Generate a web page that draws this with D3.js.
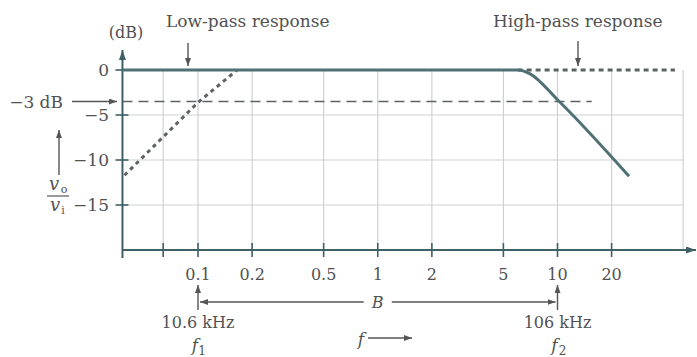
<!DOCTYPE html>
<html>
<head>
  <meta charset="UTF-8">
  <title>Bandwidth</title>
  <script src="https://d3js.org/d3.v7.min.js"></script>
  <style>
    body { margin: 0; background: #fff; }
    text { font-family: "DejaVu Serif", serif; fill: #515151; }
  </style>
</head>
<body>
    <svg></svg>

    <script>
        // values (frequency in units of f2, gain in dB)
        let gridFreqs = [0.064, 0.1, 0.2, 0.5, 1, 2, 5, 10, 20, 50];
        let tickFreqs = [0.1, 0.2, 0.5, 1, 2, 5, 10, 20];
        let tickLabels = ["0.1", "0.2", "0.5", "1", "2", "5", "10", "20"];
        let dbTicks = [0, -5, -10, -15];
        let dbGrid = [-5, -10, -15];

        let lowPassFreq = [0.039, 0.1, 0.165];
        let lowPassDb = [-11.7, -3.6, 0];

        let bandFreq = [0.038, 6.0, 7.0, 10, 25];
        let bandDb = [0, 0, -0.4, -3.3, -11.8];

        let highPassFreq = [6.0, 45];
        let highPassDb = [0, 0];

        let halfPowerFreq = [0.038, 15.5];
        let halfPowerDb = [-3.5, -3.5];

        let f1 = 0.1, f2 = 10;

        let width = 697, height = 357;
        let svg = d3.select("svg")
            .attr("width", width)
            .attr("height", height);

        let x = d3.scaleLog().domain([0.1, 10]).range([198, 557.5]);
        let y = d3.scaleLinear().domain([0, -20]).range([70, 250]);
        let x0 = x(0.038);

        let axisCol = "#3e6066", lineCol = "#4f7075", gridCol = "#cfd2d2", dashCol = "#5e6263";

        let defs = svg.append("defs");
        function marker(id, col, w, h) {
            defs.append("marker")
                .attr("id", id)
                .attr("markerUnits", "userSpaceOnUse")
                .attr("markerWidth", w).attr("markerHeight", h)
                .attr("refX", w).attr("refY", h / 2)
                .attr("orient", "auto")
                .append("path")
                .attr("d", "M0,0 L" + w + "," + (h / 2) + " L0," + h + " z")
                .attr("fill", col);
        }
        marker("arr", "#555", 8, 6);
        marker("arrAxis", axisCol, 10, 7);

        // grid
        let grid = svg.append("g").attr("id", "grid");
        grid.selectAll("line.v")
            .data(gridFreqs)
            .enter()
            .append("line")
            .attr("x1", d => x(d)).attr("x2", d => x(d))
            .attr("y1", y(0)).attr("y2", y(-20))
            .attr("stroke", gridCol).attr("stroke-width", 1.2);
        grid.selectAll("line.h")
            .data(dbGrid)
            .enter()
            .append("line")
            .attr("x1", x0).attr("x2", x(50))
            .attr("y1", d => y(d)).attr("y2", d => y(d))
            .attr("stroke", gridCol).attr("stroke-width", 1.2);

        // axes
        let axes = svg.append("g").attr("id", "axes");
        axes.append("line")
            .attr("x1", x0).attr("x2", width - 1)
            .attr("y1", y(-20)).attr("y2", y(-20))
            .attr("stroke", axisCol).attr("stroke-width", 2.2)
            .attr("marker-end", "url(#arrAxis)");
        axes.append("line")
            .attr("x1", x0).attr("x2", x0)
            .attr("y1", y(-20) + 8).attr("y2", 50)
            .attr("stroke", axisCol).attr("stroke-width", 2)
            .attr("marker-end", "url(#arrAxis)");

        axes.selectAll("line.xt")
            .data(gridFreqs.slice(0, -1))
            .enter()
            .append("line")
            .attr("x1", d => x(d)).attr("x2", d => x(d))
            .attr("y1", y(-20) - 7).attr("y2", y(-20) + 7)
            .attr("stroke", axisCol).attr("stroke-width", 1.6);
        axes.selectAll("text.xt")
            .data(tickFreqs)
            .enter()
            .append("text")
            .attr("x", d => x(d))
            .attr("y", 280)
            .attr("text-anchor", "middle")
            .attr("font-size", 16)
            .text((d, i) => tickLabels[i]);

        axes.selectAll("line.yt")
            .data(dbTicks)
            .enter()
            .append("line")
            .attr("x1", x0 - 7).attr("x2", x0 + 6)
            .attr("y1", d => y(d)).attr("y2", d => y(d))
            .attr("stroke", axisCol).attr("stroke-width", 1.6);
        axes.selectAll("text.yt")
            .data(dbTicks)
            .enter()
            .append("text")
            .attr("x", 109)
            .attr("y", d => y(d) + 6)
            .attr("text-anchor", "end")
            .attr("font-size", 17)
            .text(d => d < 0 ? "\u2212" + (-d) : d);

        // curves
        let line = d3.line().x(d => x(d[0])).y(d => y(d[1]));
        let curves = svg.append("g").attr("id", "curves");
        curves.append("path")
            .attr("d", line(halfPowerFreq.map((f, i) => [f, halfPowerDb[i]])))
            .attr("fill", "none").attr("stroke", dashCol)
            .attr("stroke-width", 1.6).attr("stroke-dasharray", "10,6");
        curves.append("path")
            .attr("d", line(lowPassFreq.map((f, i) => [f, lowPassDb[i]])))
            .attr("fill", "none").attr("stroke", dashCol)
            .attr("stroke-width", 3).attr("stroke-dasharray", "4,4");
        curves.append("path")
            .attr("d", line(highPassFreq.map((f, i) => [f, highPassDb[i]])))
            .attr("fill", "none").attr("stroke", dashCol)
            .attr("stroke-width", 2.8).attr("stroke-dasharray", "5,4");
        curves.append("path")
            .attr("d", line.curve(d3.curveMonotoneX)(bandFreq.map((f, i) => [f, bandDb[i]])))
            .attr("fill", "none").attr("stroke", lineCol)
            .attr("stroke-width", 3);

        // labels and arrows
        let notes = svg.append("g").attr("id", "notes");
        function arrow(x1, y1, x2, y2) {
            notes.append("line")
                .attr("x1", x1).attr("y1", y1)
                .attr("x2", x2).attr("y2", y2)
                .attr("stroke", "#555").attr("stroke-width", 1.4)
                .attr("marker-end", "url(#arr)");
        }
        function label(txt, px, py, anchor, size, italic) {
            return notes.append("text")
                .attr("x", px).attr("y", py)
                .attr("text-anchor", anchor)
                .attr("font-size", size)
                .attr("font-style", italic ? "italic" : null)
                .text(txt);
        }

        label("(dB)", 126, 38, "middle", 16);
        label("Low-pass response", 166, 27, "start", 17);
        arrow(x(0.088), 43, x(0.088), 66);
        label("High-pass response", 493, 27, "start", 17);
        arrow(x(13), 41, x(13), 66);

        label("\u22123 dB", 63, 108, "end", 17);
        arrow(72, y(-3.5), 117, y(-3.5));

        arrow(59, 175, 59, 130);
        label("v", 54, 190, "middle", 18, true);
        label("o", 64, 193, "middle", 11);
        notes.append("line")
            .attr("x1", 47).attr("x2", 69)
            .attr("y1", 196).attr("y2", 196)
            .attr("stroke", "#555").attr("stroke-width", 1.2);
        label("v", 55, 211, "middle", 18, true);
        label("i", 63, 214, "middle", 11);

        // bandwidth
        arrow(x(f1), 310, x(f1), 285);
        arrow(x(f2), 310, x(f2), 285);
        arrow(x(1) - 14, 302, x(f1) + 2, 302);
        arrow(x(1) + 14, 302, x(f2) - 2, 302);
        label("B", x(1), 308, "middle", 16, true);
        label("10.6 kHz", x(f1), 328, "middle", 16);
        label("106 kHz", x(f2), 328, "middle", 16);
        label("f", x(f1) - 3, 351, "middle", 17, true);
        label("1", x(f1) + 4, 355, "middle", 12);
        label("f", x(f2) - 3, 351, "middle", 17, true);
        label("2", x(f2) + 5, 355, "middle", 12);

        label("f", 361, 345, "middle", 17, true);
        arrow(368, 338, 412, 338);
    </script>

</body>
</html>
